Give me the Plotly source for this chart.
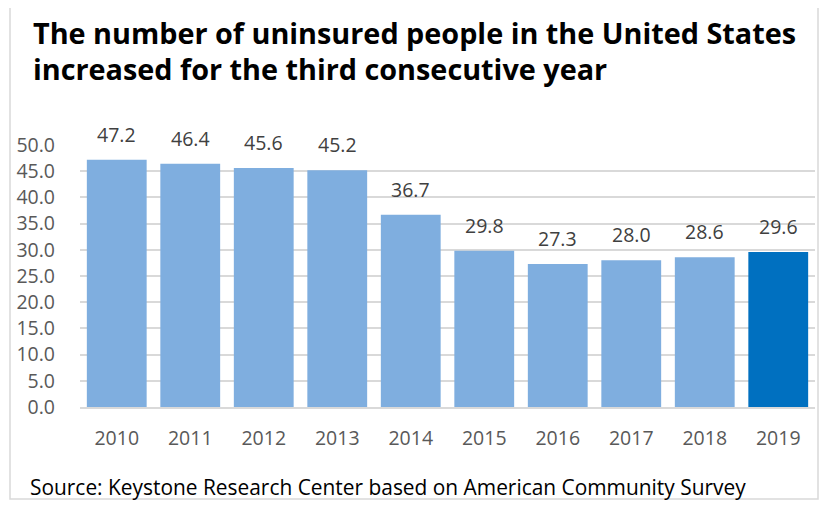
import plotly.graph_objects as go

years = ["2010", "2011", "2012", "2013", "2014", "2015", "2016", "2017", "2018", "2019"]
uninsured = [47.2, 46.4, 45.6, 45.2, 36.7, 29.8, 27.3, 28.0, 28.6, 29.6]
colors = ["#7FAEDF"] * 9 + ["#0070C0"]
y_ticks = [0, 5, 10, 15, 20, 25, 30, 35, 40, 45, 50]

# page body has an 8px margin; figure coordinates below are reference pixels minus 8
W, H = 811, 492
L, R, T, B = 72, 4, 137, 93
pw, ph = W - L - R, H - T - B

def px_x(p):
    return (p - L) / pw

def px_y(p):
    return (H - B - p) / ph

fig = go.Figure(go.Bar(x=years, y=uninsured, marker=dict(color=colors, line=dict(width=0)), hoverinfo="skip"))

ann = []
for i, v in enumerate(uninsured):
    ann.append(dict(x=i, y=v, text=f"{v:.1f}", showarrow=False, yanchor="bottom", yshift=10,
                    font=dict(family="Open Sans", size=19.5, color="#404040")))

ann.append(dict(xref="paper", yref="paper", x=px_x(23), y=px_y(24), xanchor="left", yanchor="middle",
                text="<b>The number of uninsured people in the United States</b>", showarrow=False,
                font=dict(family="Open Sans", size=28.8, color="#000000")))
ann.append(dict(xref="paper", yref="paper", x=px_x(23), y=px_y(61), xanchor="left", yanchor="middle",
                text="<b>increased for the third consecutive year</b>", showarrow=False,
                font=dict(family="Open Sans", size=28.8, color="#000000")))
ann.append(dict(xref="paper", yref="paper", x=px_x(20), y=px_y(479), xanchor="left", yanchor="middle",
                text="Source: Keystone Research Center based on American Community Survey", showarrow=False,
                font=dict(family="Open Sans", size=20.9, color="#000000")))

fig.update_layout(
    width=W, height=H,
    margin=dict(l=L, r=R, t=T, b=B),
    paper_bgcolor="white", plot_bgcolor="white",
    bargap=0.186, showlegend=False,
    annotations=ann,
    shapes=[dict(type="rect", xref="paper", yref="paper", x0=px_x(2), x1=px_x(810), y0=px_y(491), y1=px_y(-10),
                 line=dict(color="#D9D9D9", width=1.5), fillcolor="rgba(0,0,0,0)", layer="below")],
    xaxis=dict(type="category", range=[-0.5, 9.5], showgrid=False, showline=True, linecolor="#D9D9D9", linewidth=1.5,
               ticks="", tickfont=dict(family="Open Sans", size=19.5, color="#595959"), ticklabelstandoff=13,
               fixedrange=True),
    yaxis=dict(range=[0, 50], tickvals=y_ticks, ticktext=[f"{t:.1f}" for t in y_ticks],
               showgrid=True, gridcolor="#D9D9D9", gridwidth=1.5, zeroline=False, showline=False, ticks="",
               tickfont=dict(family="Open Sans", size=19.5, color="#595959"), ticklabelstandoff=24, fixedrange=True),
)

fig.write_html("out.html")
